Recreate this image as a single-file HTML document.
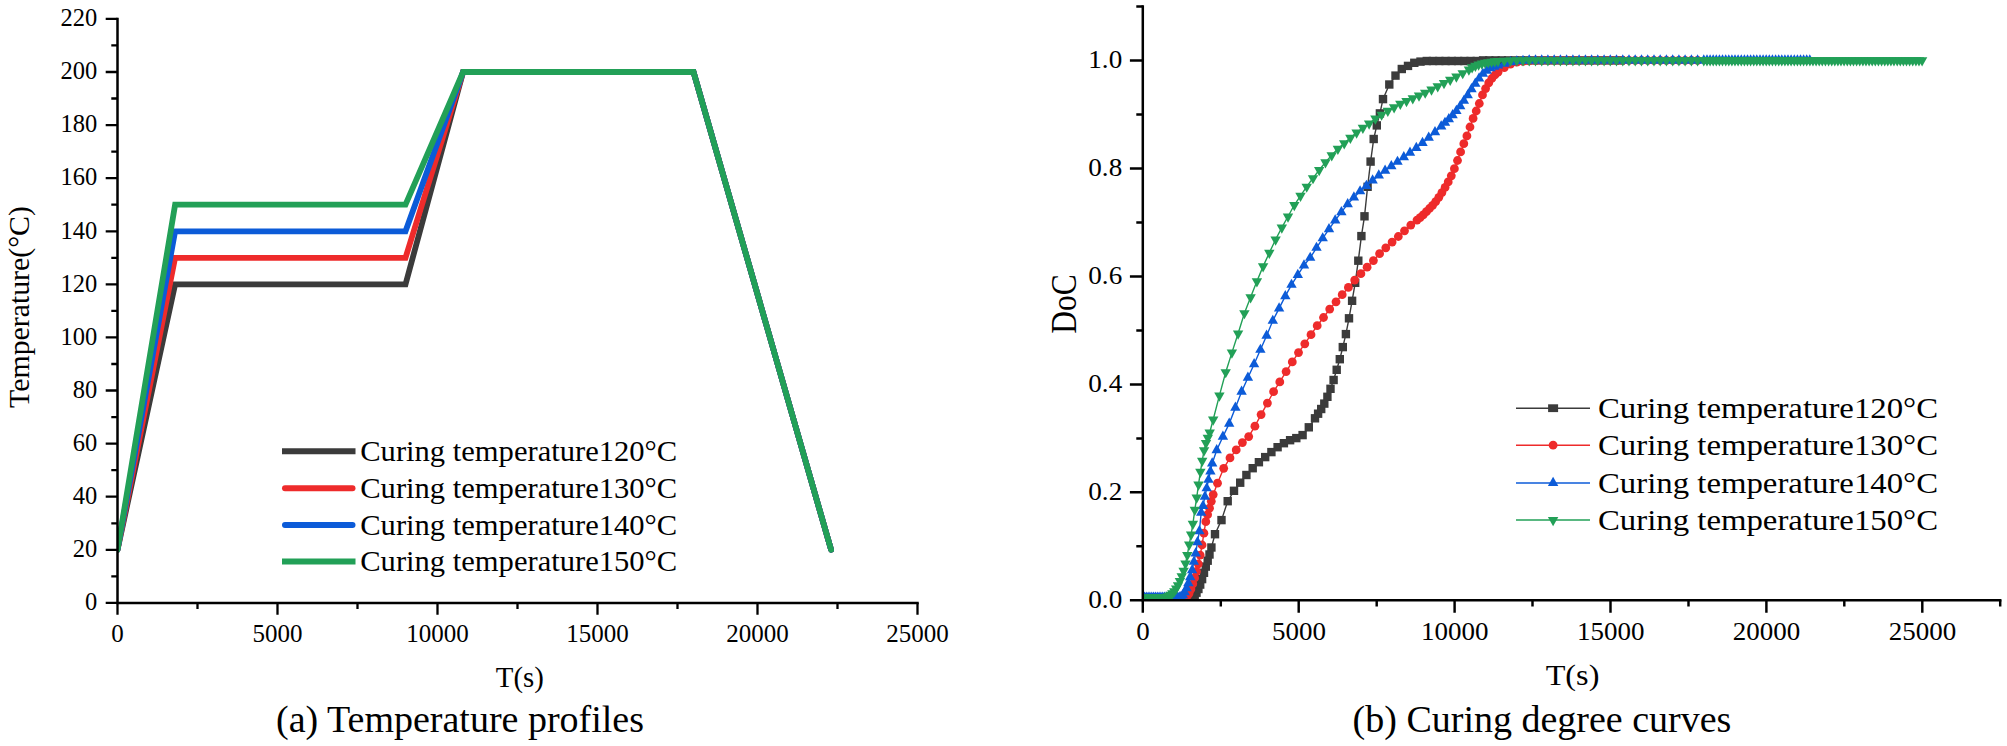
<!DOCTYPE html>
<html lang="en"><head><meta charset="utf-8"><title>Curing profiles</title>
<style>html,body{margin:0;padding:0;background:#fff}svg{display:block;font-family:"Liberation Serif","Times New Roman",serif;fill:#000}</style></head><body>
<svg width="2007" height="746" viewBox="0 0 2007 746">
<rect width="2007" height="746" fill="#fff"/>
<!-- (a) temperature profiles -->
<clipPath id="cl"><rect x="117.5" y="0" width="900" height="602.9"/></clipPath>
<g clip-path="url(#cl)" fill="none" stroke-width="5.8" stroke-linejoin="miter" stroke-linecap="round">
<polyline stroke="#3b3b3b" points="117.5,549.8 175.1,284.4 405.5,284.4 463.1,72.0 693.5,72.0 831.1,549.8"/>
<polyline stroke="#ee2b2b" points="117.5,549.8 175.1,257.8 405.5,257.8 463.1,72.0 693.5,72.0 831.1,549.8"/>
<polyline stroke="#0c5bd8" points="117.5,549.8 175.1,231.3 405.5,231.3 463.1,72.0 693.5,72.0 831.1,549.8"/>
<polyline stroke="#22a057" points="117.5,549.8 175.1,204.7 405.5,204.7 463.1,72.0 693.5,72.0 831.1,549.8"/>
</g>
<g stroke="#000" fill="none">
<path stroke-width="2.5" stroke-linecap="square" d="M117.5 18.9V602.9H917.5"/>
<path stroke-width="2.3" d="M105.7 602.9H117.5M111.3 576.4H117.5M105.7 549.8H117.5M111.3 523.3H117.5M105.7 496.7H117.5M111.3 470.2H117.5M105.7 443.6H117.5M111.3 417.1H117.5M105.7 390.5H117.5M111.3 364.0H117.5M105.7 337.4H117.5M111.3 310.9H117.5M105.7 284.4H117.5M111.3 257.8H117.5M105.7 231.3H117.5M111.3 204.7H117.5M105.7 178.2H117.5M111.3 151.6H117.5M105.7 125.1H117.5M111.3 98.5H117.5M105.7 72.0H117.5M111.3 45.4H117.5M105.7 18.9H117.5M117.5 602.9V614.7M197.5 602.9V609.1M277.5 602.9V614.7M357.5 602.9V609.1M437.5 602.9V614.7M517.5 602.9V609.1M597.5 602.9V614.7M677.5 602.9V609.1M757.5 602.9V614.7M837.5 602.9V609.1M917.5 602.9V614.7"/>
</g>
<text x="97.2" y="610.1" font-size="24.5" text-anchor="end">0</text>
<text x="97.2" y="557.0" font-size="24.5" text-anchor="end">20</text>
<text x="97.2" y="503.9" font-size="24.5" text-anchor="end">40</text>
<text x="97.2" y="450.8" font-size="24.5" text-anchor="end">60</text>
<text x="97.2" y="397.7" font-size="24.5" text-anchor="end">80</text>
<text x="97.2" y="344.6" font-size="24.5" text-anchor="end">100</text>
<text x="97.2" y="291.6" font-size="24.5" text-anchor="end">120</text>
<text x="97.2" y="238.5" font-size="24.5" text-anchor="end">140</text>
<text x="97.2" y="185.4" font-size="24.5" text-anchor="end">160</text>
<text x="97.2" y="132.3" font-size="24.5" text-anchor="end">180</text>
<text x="97.2" y="79.2" font-size="24.5" text-anchor="end">200</text>
<text x="97.2" y="26.1" font-size="24.5" text-anchor="end">220</text>
<text x="117.5" y="641.6" font-size="25" text-anchor="middle">0</text>
<text x="277.5" y="641.6" font-size="25" text-anchor="middle">5000</text>
<text x="437.5" y="641.6" font-size="25" text-anchor="middle">10000</text>
<text x="597.5" y="641.6" font-size="25" text-anchor="middle">15000</text>
<text x="757.5" y="641.6" font-size="25" text-anchor="middle">20000</text>
<text x="917.5" y="641.6" font-size="25" text-anchor="middle">25000</text>
<text x="519.8" y="687.4" font-size="28.8" text-anchor="middle">T(s)</text>
<text font-size="29.8" text-anchor="middle" transform="translate(28.6 307) rotate(-90)">Temperature(°C)</text>
<text font-size="38" text-anchor="middle" x="460" y="731.7">(a) Temperature profiles</text>
<g stroke-width="6">
<line x1="282" x2="355.5" y1="451.2" y2="451.2" stroke="#3b3b3b"/>
<line x1="285" x2="352.5" y1="488.2" y2="488.2" stroke="#ee2b2b" stroke-linecap="round"/>
<line x1="285" x2="352.5" y1="524.9" y2="524.9" stroke="#0c5bd8" stroke-linecap="round"/>
<line x1="282" x2="355.5" y1="561.6" y2="561.6" stroke="#22a057"/>
</g>
<text transform="translate(360.2 461.0) scale(1.077 1)" font-size="28.4">Curing temperature120°C</text>
<text transform="translate(360.2 498.0) scale(1.077 1)" font-size="28.4">Curing temperature130°C</text>
<text transform="translate(360.2 534.7) scale(1.077 1)" font-size="28.4">Curing temperature140°C</text>
<text transform="translate(360.2 571.4) scale(1.077 1)" font-size="28.4">Curing temperature150°C</text>
<!-- (b) curing degree curves -->
<defs>
<marker id="mk" markerWidth="12" markerHeight="12" refX="6" refY="6" markerUnits="userSpaceOnUse"><rect x="1.80" y="1.80" width="8.4" height="8.4" fill="#3b3b3b"/></marker>
<marker id="mr" markerWidth="12" markerHeight="12" refX="6" refY="6" markerUnits="userSpaceOnUse"><circle cx="6" cy="6" r="4.4" fill="#ee2b2b"/></marker>
<marker id="mb" markerWidth="14" markerHeight="14" refX="7" refY="7" markerUnits="userSpaceOnUse"><path d="M7 0.87L12.20 10.07H1.80Z" fill="#0c5bd8"/></marker>
<marker id="mg" markerWidth="14" markerHeight="14" refX="7" refY="7" markerUnits="userSpaceOnUse"><path d="M7 13.13L12.20 3.93H1.80Z" fill="#22a057"/></marker>
<clipPath id="cr"><rect x="1142.8" y="0" width="900" height="600.3"/></clipPath>
</defs>
<g clip-path="url(#cr)" fill="none" stroke-width="1.4">
<polyline stroke="#3b3b3b" marker-start="url(#mk)" marker-mid="url(#mk)" marker-end="url(#mk)" points="1142.6,597.6 1144.5,597.6 1146.3,597.6 1148.2,597.6 1150.0,597.6 1151.9,597.6 1153.8,597.6 1155.6,597.6 1157.5,597.6 1159.3,597.6 1161.2,597.6 1163.1,597.6 1164.9,597.6 1166.8,597.6 1168.6,597.6 1170.5,597.6 1172.4,597.6 1174.2,597.6 1176.1,597.6 1177.9,597.6 1179.8,597.6 1181.6,597.6 1183.5,597.6 1185.4,597.6 1187.2,597.6 1189.1,597.5 1190.9,597.2 1192.8,596.2 1194.7,595.0 1196.5,592.7 1198.4,589.0 1200.2,584.6 1202.1,579.1 1204.0,572.8 1205.8,566.6 1207.7,560.7 1209.5,554.5 1211.4,547.5 1215.0,534.2 1221.5,520.1 1227.7,501.2 1234.0,490.8 1240.2,482.7 1246.4,475.0 1252.7,468.2 1258.9,462.2 1265.2,457.1 1271.4,452.1 1277.6,447.2 1283.9,443.2 1290.1,440.2 1296.3,438.1 1302.6,435.1 1308.8,427.3 1315.0,418.3 1318.1,413.7 1321.2,409.0 1324.3,403.6 1327.4,396.8 1330.5,388.8 1333.6,380.0 1336.7,369.8 1339.8,359.2 1342.8,347.1 1345.9,334.1 1349.0,318.3 1352.1,300.8 1355.2,282.8 1358.3,260.7 1361.4,236.1 1364.5,216.3 1367.6,186.8 1370.6,161.6 1373.7,139.0 1376.8,125.4 1379.9,113.4 1383.0,99.1 1389.3,84.5 1395.5,75.6 1401.8,69.0 1408.0,65.9 1414.3,62.8 1420.5,61.6 1426.8,61.0 1433.0,61.0 1439.3,61.0 1445.6,61.0 1451.8,61.0 1458.1,61.0 1464.3,61.0 1470.6,61.0 1476.8,61.0 1483.1,60.4 1489.3,60.4 1495.6,60.4 1501.8,60.4 1508.1,60.4 1514.4,60.4 1520.6,60.4 1526.9,60.4 1533.1,60.4 1539.4,60.4 1545.6,60.4 1551.9,60.4 1558.1,60.4 1564.4,60.4 1570.7,60.4 1576.9,60.4 1583.2,60.4 1589.4,60.4 1595.7,60.4 1601.9,60.4 1608.2,60.4 1614.4,60.4 1620.7,60.4"/>
<polyline stroke="#ee2b2b" marker-start="url(#mr)" marker-mid="url(#mr)" marker-end="url(#mr)" points="1142.6,597.6 1144.5,597.6 1146.3,597.6 1148.2,597.6 1150.0,597.6 1151.9,597.6 1153.7,597.6 1155.6,597.6 1157.5,597.6 1159.3,597.6 1161.2,597.6 1163.0,597.6 1164.9,597.6 1166.8,597.6 1168.6,597.6 1170.5,597.6 1172.3,597.6 1174.2,597.6 1176.0,597.6 1177.9,597.6 1179.8,597.6 1181.6,597.6 1183.5,597.5 1185.3,597.1 1187.2,596.1 1189.0,593.6 1190.9,589.1 1192.8,583.8 1194.6,577.9 1196.5,571.4 1198.3,563.9 1200.2,555.1 1202.1,545.0 1203.9,533.2 1205.8,521.7 1207.6,514.7 1209.5,508.2 1211.3,501.3 1213.2,494.6 1217.5,483.2 1223.7,468.3 1230.0,457.9 1236.2,449.9 1242.4,442.6 1248.7,436.6 1254.9,426.2 1261.1,414.6 1267.4,403.1 1273.6,391.7 1279.8,381.9 1286.1,371.6 1292.3,361.9 1298.5,352.6 1304.8,343.8 1311.0,334.7 1317.2,325.7 1323.5,317.5 1329.7,309.1 1336.0,301.8 1342.2,294.7 1348.4,287.4 1354.7,280.1 1360.9,273.7 1367.1,267.2 1373.4,260.6 1379.6,253.7 1385.8,247.8 1392.1,242.1 1398.3,236.5 1404.5,230.8 1410.8,225.1 1417.0,220.1 1420.1,217.6 1423.2,214.9 1426.4,211.7 1429.5,208.5 1432.6,205.3 1435.7,201.6 1438.8,197.3 1441.9,192.6 1445.1,187.4 1448.2,181.9 1451.3,175.8 1454.4,168.7 1457.5,160.5 1460.6,151.9 1463.8,143.7 1466.9,135.9 1470.0,127.0 1473.1,118.4 1476.2,111.0 1479.3,103.5 1482.5,94.9 1485.6,88.6 1488.7,82.9 1491.8,78.5 1494.9,75.0 1498.0,72.2 1504.3,67.6 1510.5,64.2 1516.8,62.2 1523.0,61.4 1529.2,60.9 1535.5,60.7 1541.7,60.5 1547.9,60.5 1554.2,60.4 1560.4,60.4 1566.6,60.4 1572.9,60.4 1579.1,60.4 1585.4,60.4 1591.6,60.4 1597.8,60.4 1604.1,60.4 1610.3,60.4 1616.5,60.4 1622.8,60.4 1629.0,60.4 1635.2,60.4 1641.5,60.4 1647.7,60.4 1653.9,60.4 1660.2,60.4 1666.4,60.4 1672.7,60.4 1678.9,60.4 1685.1,60.4 1691.4,60.4 1697.6,60.4"/>
<polyline stroke="#0c5bd8" marker-start="url(#mb)" marker-mid="url(#mb)" marker-end="url(#mb)" points="1142.6,597.6 1144.4,597.6 1146.3,597.6 1148.1,597.6 1149.9,597.6 1151.8,597.6 1153.6,597.6 1155.4,597.6 1157.3,597.6 1159.1,597.6 1160.9,597.6 1162.7,597.6 1164.6,597.6 1166.4,597.6 1168.2,597.6 1170.1,597.6 1171.9,597.6 1173.7,597.6 1175.6,597.6 1177.4,597.6 1179.2,597.3 1181.1,596.6 1182.9,595.3 1184.7,592.2 1186.6,588.1 1188.4,583.1 1190.2,577.2 1192.1,570.2 1193.9,561.8 1195.7,553.4 1197.5,542.2 1199.4,531.1 1201.2,512.6 1203.0,505.9 1204.9,496.7 1206.7,488.3 1208.5,479.8 1210.4,471.4 1212.2,463.4 1216.7,450.2 1222.9,436.7 1229.2,423.6 1235.4,407.7 1241.6,391.7 1247.9,377.7 1254.1,364.2 1260.4,349.8 1266.6,335.7 1272.8,320.8 1279.1,308.4 1285.3,296.2 1291.5,284.8 1297.8,274.9 1304.0,265.4 1310.2,257.8 1316.5,247.8 1322.7,238.3 1329.0,229.2 1335.2,220.4 1341.4,212.2 1347.7,204.1 1353.9,197.4 1360.1,191.3 1366.4,185.9 1372.6,180.5 1378.8,175.4 1385.1,170.7 1391.3,166.2 1397.5,161.8 1403.8,157.2 1410.0,152.7 1416.3,148.0 1422.5,143.0 1428.7,137.7 1435.0,132.1 1441.2,126.4 1445.0,122.8 1448.8,119.1 1452.6,115.2 1456.4,110.9 1460.2,106.1 1463.9,100.8 1467.7,95.3 1471.5,89.2 1475.3,83.7 1479.1,78.4 1482.9,73.8 1486.7,70.7 1490.5,68.3 1494.3,66.6 1498.0,65.4 1504.3,63.7 1510.5,62.2 1516.8,61.3 1523.0,60.8 1529.2,60.5 1535.5,60.4 1541.7,60.4 1547.9,60.4 1554.2,60.4 1560.4,60.4 1566.6,60.4 1572.9,60.4 1579.1,60.4 1585.4,60.4 1591.6,60.4 1597.8,60.4 1604.1,60.4 1610.3,60.4 1616.5,60.4 1622.8,60.4 1629.0,60.4 1635.2,60.4 1641.5,60.4 1647.7,60.4 1654.0,60.4 1660.2,60.4 1666.4,60.4 1672.7,60.4 1678.9,60.4 1685.1,60.4 1691.4,60.4 1697.6,60.4 1703.8,60.4 1707.0,60.4 1710.1,60.4 1713.2,60.4 1716.3,60.4 1719.4,60.4 1722.5,60.4 1725.7,60.4 1728.8,60.4 1731.9,60.4 1735.0,60.4 1738.1,60.4 1741.3,60.4 1744.4,60.4 1747.5,60.4 1750.6,60.4 1753.7,60.4 1756.8,60.4 1760.0,60.4 1763.1,60.4 1766.2,60.4 1769.3,60.4 1772.4,60.4 1775.6,60.4 1778.7,60.4 1781.8,60.4 1784.9,60.4 1788.0,60.4 1791.1,60.4 1794.3,60.4 1797.4,60.4 1800.5,60.4 1803.6,60.4 1806.7,60.4 1809.8,60.4"/>
<polyline stroke="#22a057" marker-start="url(#mg)" marker-mid="url(#mg)" marker-end="url(#mg)" points="1142.6,597.6 1144.5,597.6 1146.3,597.6 1148.2,597.6 1150.1,597.6 1151.9,597.6 1153.8,597.6 1155.6,597.6 1157.5,597.6 1159.4,597.6 1161.2,597.6 1163.1,597.6 1165.0,597.5 1166.8,596.7 1168.7,595.8 1170.6,594.8 1172.4,593.3 1174.3,591.3 1176.2,588.6 1178.0,585.2 1179.9,581.1 1181.7,576.3 1183.6,570.8 1185.5,563.6 1187.3,555.1 1189.2,544.6 1191.1,534.6 1192.9,523.9 1194.8,509.9 1196.7,497.5 1198.5,484.6 1200.4,471.9 1202.2,460.9 1204.1,450.3 1206.0,443.1 1207.8,437.9 1209.7,432.5 1213.2,419.5 1219.4,395.6 1225.7,372.2 1231.9,352.6 1238.1,333.5 1244.4,313.2 1250.6,297.3 1256.9,281.3 1263.1,266.4 1269.3,252.9 1275.6,239.5 1281.8,227.6 1288.0,216.5 1294.3,205.0 1300.5,195.8 1306.7,186.7 1313.0,178.2 1319.2,170.0 1325.5,162.3 1331.7,155.3 1337.9,148.8 1344.2,143.3 1350.4,137.8 1356.6,132.6 1362.9,127.9 1369.1,123.5 1375.4,118.6 1381.6,114.7 1387.8,110.9 1394.1,107.3 1400.3,103.9 1406.5,101.1 1412.8,98.3 1419.0,95.6 1425.2,92.7 1431.5,89.5 1437.7,86.4 1444.0,83.1 1450.2,79.8 1456.4,76.5 1462.7,73.2 1468.9,69.5 1472.1,67.3 1475.4,65.8 1478.6,64.5 1481.9,63.5 1485.1,62.7 1488.3,62.2 1491.6,61.7 1494.8,61.3 1498.0,61.0 1504.3,60.7 1510.5,60.5 1516.8,60.4 1523.0,60.4 1529.2,60.4 1535.5,60.4 1541.7,60.4 1547.9,60.4 1554.2,60.4 1560.4,60.4 1566.6,60.4 1572.9,60.4 1579.1,60.4 1585.4,60.4 1591.6,60.4 1597.8,60.4 1604.1,60.4 1610.3,60.4 1616.5,60.4 1622.8,60.4 1629.0,60.4 1635.2,60.4 1641.5,60.4 1647.7,60.4 1654.0,60.4 1660.2,60.4 1666.4,60.4 1672.7,60.4 1678.9,60.4 1685.1,60.4 1691.4,60.4 1697.6,60.4 1703.8,60.4 1707.0,60.4 1710.1,60.4 1713.2,60.4 1716.3,60.4 1719.4,60.4 1722.5,60.4 1725.7,60.4 1728.8,60.4 1731.9,60.4 1735.0,60.4 1738.1,60.4 1741.3,60.4 1744.4,60.4 1747.5,60.4 1750.6,60.4 1753.7,60.4 1756.8,60.4 1760.0,60.4 1763.1,60.4 1766.2,60.4 1769.3,60.4 1772.4,60.4 1775.6,60.4 1778.7,60.4 1781.8,60.4 1784.9,60.4 1788.0,60.4 1791.1,60.4 1794.3,60.4 1797.4,60.4 1800.5,60.4 1803.6,60.4 1806.7,60.4 1809.9,60.4 1813.0,60.4 1816.1,60.4 1819.2,60.4 1822.3,60.4 1825.4,60.4 1828.6,60.4 1831.7,60.4 1834.8,60.4 1837.9,60.4 1841.0,60.4 1844.1,60.4 1847.3,60.4 1850.4,60.4 1853.5,60.4 1856.6,60.4 1859.7,60.4 1862.9,60.4 1866.0,60.4 1869.1,60.4 1872.2,60.4 1875.3,60.4 1878.4,60.4 1881.6,60.4 1884.7,60.4 1887.8,60.4 1890.9,60.4 1894.0,60.4 1897.2,60.4 1900.3,60.4 1903.4,60.4 1906.5,60.4 1909.6,60.4 1912.7,60.4 1915.9,60.4 1919.0,60.4 1922.1,60.4"/>
</g>
<g stroke="#000" fill="none">
<path stroke-width="2.5" stroke-linecap="square" d="M1142.8 6.5V600.3H2000.2"/>
<path stroke-width="2.45" d="M1129.9 600.3H1142.8M1136.3 546.3H1142.8M1129.9 492.3H1142.8M1136.3 438.4H1142.8M1129.9 384.4H1142.8M1136.3 330.4H1142.8M1129.9 276.4H1142.8M1136.3 222.4H1142.8M1129.9 168.5H1142.8M1136.3 114.5H1142.8M1129.9 60.5H1142.8M1136.3 6.5H1142.8M1142.8 600.3V612.7M1220.8 600.3V606.6M1298.7 600.3V612.7M1376.7 600.3V606.6M1454.6 600.3V612.7M1532.5 600.3V606.6M1610.5 600.3V612.7M1688.5 600.3V606.6M1766.4 600.3V612.7M1844.3 600.3V606.6M1922.3 600.3V612.7M2000.2 600.3V606.6"/>
</g>
<text transform="translate(1122.2 607.7) scale(1.085 1)" font-size="25" text-anchor="end">0.0</text>
<text transform="translate(1122.2 499.7) scale(1.085 1)" font-size="25" text-anchor="end">0.2</text>
<text transform="translate(1122.2 391.8) scale(1.085 1)" font-size="25" text-anchor="end">0.4</text>
<text transform="translate(1122.2 283.8) scale(1.085 1)" font-size="25" text-anchor="end">0.6</text>
<text transform="translate(1122.2 175.9) scale(1.085 1)" font-size="25" text-anchor="end">0.8</text>
<text transform="translate(1122.2 67.9) scale(1.085 1)" font-size="25" text-anchor="end">1.0</text>
<text transform="translate(1143.0 639.9) scale(1.080 1)" font-size="25" text-anchor="middle">0</text>
<text transform="translate(1298.9 639.9) scale(1.080 1)" font-size="25" text-anchor="middle">5000</text>
<text transform="translate(1454.8 639.9) scale(1.080 1)" font-size="25" text-anchor="middle">10000</text>
<text transform="translate(1610.7 639.9) scale(1.080 1)" font-size="25" text-anchor="middle">15000</text>
<text transform="translate(1766.6 639.9) scale(1.080 1)" font-size="25" text-anchor="middle">20000</text>
<text transform="translate(1922.5 639.9) scale(1.080 1)" font-size="25" text-anchor="middle">25000</text>
<text transform="translate(1572.5 685.4) scale(1.120 1)" font-size="28.8" text-anchor="middle">T(s)</text>
<text font-size="31.4" text-anchor="middle" transform="translate(1075.7 304) scale(1.11 1) rotate(-90)">DoC</text>
<text font-size="38" text-anchor="middle" x="1542" y="731.7">(b) Curing degree curves</text>
<g fill="none" stroke-width="1.5">
<polyline stroke="#3b3b3b" points="1516,408.2 1553.1,408.2 1590,408.2"/>
<polyline stroke="#ee2b2b" marker-mid="url(#mr)" points="1516,445.2 1553.1,445.2 1590,445.2"/>
<polyline stroke="#0c5bd8" marker-mid="url(#mb)" points="1516,482.9 1553.1,482.9 1590,482.9"/>
<polyline stroke="#22a057" marker-mid="url(#mg)" points="1516,520.0 1553.1,520.0 1590,520.0"/>
</g>
<rect x="1548.1" y="404.3" width="10" height="7.8" fill="#3b3b3b"/>
<text transform="translate(1598.0 418.2) scale(1.155 1)" font-size="28.4">Curing temperature120°C</text>
<text transform="translate(1598.0 455.2) scale(1.155 1)" font-size="28.4">Curing temperature130°C</text>
<text transform="translate(1598.0 492.9) scale(1.155 1)" font-size="28.4">Curing temperature140°C</text>
<text transform="translate(1598.0 530.0) scale(1.155 1)" font-size="28.4">Curing temperature150°C</text>
</svg></body></html>
